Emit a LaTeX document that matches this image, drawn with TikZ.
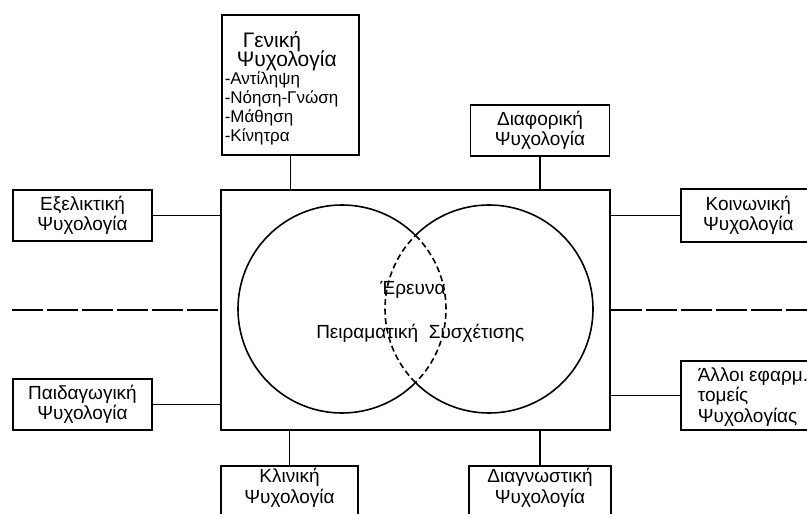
\documentclass[tikz,border=0pt]{standalone}
\usepackage{fontspec}
\setmainfont{Liberation Sans}
\begin{document}
\begin{tikzpicture}[x=1pt,y=-1pt,line width=1.6pt,
    pbox/.style={draw,rectangle,inner sep=0pt,align=center,font=\fontsize{19}{20.5}\selectfont},
    txt/.style={inner sep=0pt,font=\fontsize{19}{20.5}\selectfont},
    longdash/.style={dash pattern=on 31pt off 4pt},
    shortdash/.style={dash pattern=on 6pt off 3.5pt}]
    \useasboundingbox (0,0) rectangle (807,514);
    \node[draw,minimum width=389pt,minimum height=240pt] (main) at (415.5,310) {};

    % general psychology with its list
    \node[pbox,minimum width=137pt,minimum height=140pt] (gen) at (290.5,85) {};
    \node[txt,anchor=base west,font=\fontsize{21}{22}\selectfont] (gent1) at (242,47) {Γενική};
    \node[txt,anchor=base west,font=\fontsize{21}{22}\selectfont] (gent2) at (236,66) {Ψυχολογία};
    \foreach \t [count=\i] in {-Αντίληψη,-Νόηση-Γνώση,-Μάθηση,-Κίνητρα}
        \node[txt,anchor=base west,font=\fontsize{17}{19}\selectfont] (item\i) at (224,65+19*\i) {\t};

    \node[pbox,minimum width=139pt,minimum height=51pt] (diaf) at (540,130.5) {Διαφορική\\Ψυχολογία};
    \node[pbox,minimum width=139pt,minimum height=51pt] (exel) at (82.5,215.5) {Εξελικτική\\Ψυχολογία};
    \node[pbox,minimum width=139pt,minimum height=51pt] (paid) at (82.5,404.5) {Παιδαγωγική\\Ψυχολογία};
    \node[pbox,minimum width=135pt,minimum height=53pt,anchor=west] (koin) at (680,215.5) {Κοινωνική\\Ψυχολογία};
    \node[pbox,minimum width=135pt,minimum height=69pt,anchor=west] (allo) at (680,395.5) {};
    \node[txt,align=left,anchor=west] (allot) at (697,397) {Άλλοι εφαρμ.\\τομείς\\Ψυχολογίας};
    \node[pbox,minimum width=137pt,minimum height=60pt,anchor=north] (klin) at (289.5,465) {};
    \node[txt,align=center] (klint) at (289.5,488) {Κλινική\\Ψυχολογία};
    \node[pbox,minimum width=142pt,minimum height=60pt,anchor=north] (diag) at (540,465) {};
    \node[txt,align=center] (diagt) at (540,488) {Διαγνωστική\\Ψυχολογία};

    \draw (gen) -- (gen |- main.north);
    \draw (diaf) -- (diaf |- main.north);
    \draw (exel) -- (exel -| main.west);
    \draw (paid) -- (paid -| main.west);
    \draw (koin) -- (koin -| main.east);
    \draw (allo) -- (allo -| main.east);
    \draw (klin) -- (klin |- main.south);
    \draw (diag) -- (diag |- main.south);

    \coordinate (lend) at (12,310);
    \coordinate (rend) at (807,310);
    \draw[longdash] (lend) -- (main.west);
    \draw[longdash] (main.east) -- (rend);

    % the two circles, inner arcs dashed
    \coordinate (cl) at (342,309);
    \coordinate (cr) at (489,309);
    \draw (cl) ++(45:104) arc[start angle=45,end angle=315,radius=104];
    \draw[shortdash] (cl) ++(-45:104) arc[start angle=-45,end angle=45,radius=104];
    \draw (cr) ++(-135:104) arc[start angle=-135,end angle=135,radius=104];
    \draw[shortdash] (cr) ++(135:104) arc[start angle=135,end angle=225,radius=104];

    \node[txt] (ereuna) at (413,290) {Έρευνα};
    \node[txt,anchor=east] (peir) at (419,333) {Πειραματική};
    \node[txt,anchor=west] (sysx) at (428,333) {Συσχέτισης};
\end{tikzpicture}
\end{document}
